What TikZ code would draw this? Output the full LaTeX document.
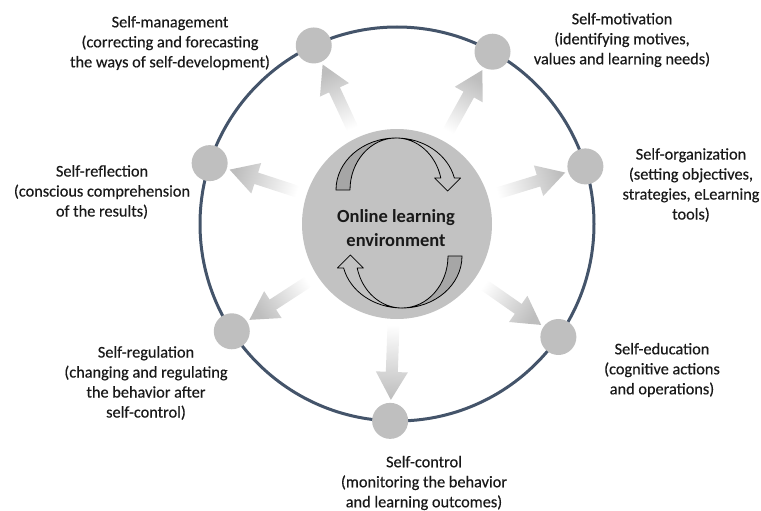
\documentclass[tikz,border=0pt]{standalone}
\usepackage{fontspec}
\setmainfont{Carlito}
\usepackage{tikz}
\usetikzlibrary{calc,positioning}
\definecolor{ringblue}{RGB}{68, 84, 106}
\definecolor{stagegray}{RGB}{191, 191, 191}
\definecolor{hubgray}{RGB}{194, 194, 194}
\definecolor{crescentgray}{RGB}{166, 166, 166}
\definecolor{arrowgray}{RGB}{190, 190, 190}
\definecolor{txt}{RGB}{25, 25, 25}
\tikzstyle{ring} = [circle, draw=ringblue, line width=3pt, minimum size=394pt, inner sep=0pt, outer sep=0pt]
\tikzstyle{hub} = [circle, fill=hubgray, minimum size=190pt, inner sep=0pt]
\tikzstyle{hubtext} = [text=txt, align=center, font=\fontsize{18.5}{24}\selectfont\bfseries]
\tikzstyle{stage} = [circle, fill=stagegray, minimum size=36pt, inner sep=0pt]
\tikzstyle{desc} = [align=center, text=txt, font=\fontsize{16.3}{20}\selectfont\addfontfeatures{FakeBold=0.4}]
\tikzstyle{spoke} = [top color=arrowgray, bottom color=white]
\tikzstyle{crescent} = [draw=black, line width=0.8pt, fill=crescentgray, line join=round]
\tikzstyle{band} = [draw=black, line width=0.8pt, fill=hubgray, line join=round]

% shaded block arrow from node #1 to node #2, #3 = direction - 90
\newcommand{\spoke}[3]{%
  \coordinate (tl) at ($(#1)!100pt!(#2)$);
  \coordinate (bs) at ($(#2)!49pt!(#1)$);
  \coordinate (tp) at ($(#2)!21pt!(#1)$);
  \path[spoke, shading angle=#3] ($(tl)!6pt!90:(#2)$) -- ($(bs)!6pt!90:(#2)$) -- ($(bs)!16pt!90:(#2)$)
    -- (tp) -- ($(bs)!16pt!-90:(#2)$) -- ($(bs)!6pt!-90:(#2)$) -- ($(tl)!6pt!-90:(#2)$) -- cycle;
}

\begin{document}
\begin{tikzpicture}[x=1pt, y=-1pt]
\useasboundingbox (0,0) rectangle (761,511);

% ring and hub =============================
\node[ring] (ring) at (397,224) {};
\node[hub] (ole) at (397,224) {};
\node[hubtext] (oletxt) at (396,228) {Online learning\\environment};

% stages on the ring
\node[stage] (smgt) at (ring.115) {};
\node[stage] (smot) at (ring.61) {};
\node[stage] (sorg) at (ring.17) {};
\node[stage] (sedu) at (ring.-35) {};
\node[stage] (sctl) at (ring.-92.5) {};
\node[stage] (sreg) at (ring.213) {};
\node[stage] (sref) at (ring.162) {};

% descriptions
\node[desc] (tmgt) at (170,43) {Self-management\\(correcting and forecasting\\the ways of self-development)};
\node[desc] (tmot) at (622,40) {Self-motivation\\(identifying motives,\\values and learning needs)};
\node[desc] (torg) at (691,185) {Self-organization\\(setting objectives,\\strategies, eLearning\\tools)};
\node[desc] (tedu) at (662,370) {Self-education\\(cognitive actions\\and operations)};
\node[desc] (tctl) at (424,483) {Self-control\\(monitoring the behavior\\and learning outcomes)};
\node[desc] (treg) at (146,383) {Self-regulation\\(changing and regulating\\the behavior after\\self-control)};
\node[desc] (tref) at (102,192) {Self-reflection\\(conscious comprehension\\of the results)};

% spokes
\spoke{ole}{smgt}{25}
\spoke{ole}{smot}{-29}
\spoke{ole}{sorg}{-73}
\spoke{ole}{sedu}{-125}
\spoke{ole}{sctl}{-182.5}
\spoke{ole}{sreg}{123}
\spoke{ole}{sref}{72}

% cycle arrows inside the hub
\path[crescent] (336,190) arc[start angle=180, end angle=270, x radius=60, y radius=52]
  arc[start angle=270, end angle=180, x radius=46, y radius=52] -- cycle;
\path[band] (396,138) arc[start angle=270, end angle=346.7, x radius=60, y radius=52]
  -- (460.6,178) -- (447.6,191) -- (434.6,178) -- (440.8,178)
  arc[start angle=346.7, end angle=270, x radius=46, y radius=52] -- cycle;

\path[crescent] (462,256) arc[start angle=0, end angle=90, x radius=60, y radius=52]
  arc[start angle=90, end angle=0, x radius=46, y radius=52] -- cycle;
\path[band] (402,308) arc[start angle=90, end angle=166.7, x radius=60, y radius=52]
  -- (337.4,268) -- (350.4,255) -- (363.4,268) -- (357.2,268)
  arc[start angle=166.7, end angle=90, x radius=46, y radius=52] -- cycle;

\end{tikzpicture}
\end{document}
